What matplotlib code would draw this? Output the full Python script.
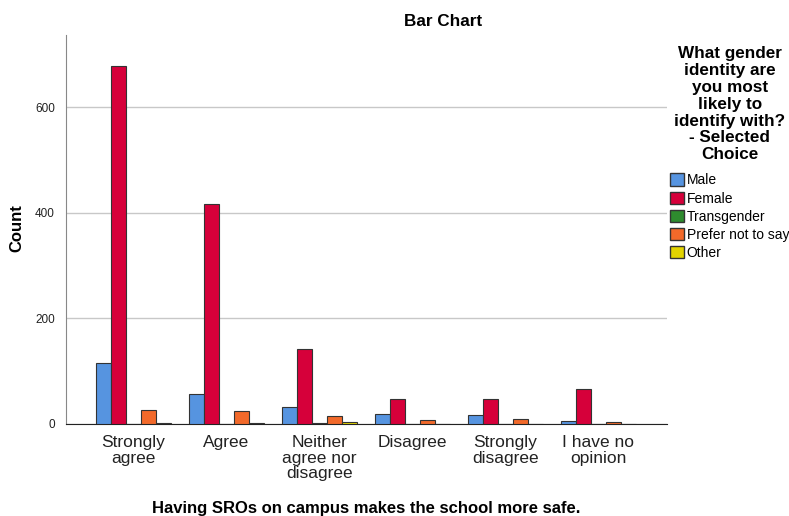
import numpy as np
import matplotlib.pyplot as plt
from matplotlib.patches import Patch

plt.rcParams['font.family'] = ['Liberation Sans', 'DejaVu Sans']

categories = ['Strongly\nagree', 'Agree', 'Neither\nagree nor\ndisagree',
              'Disagree', 'Strongly\ndisagree', 'I have no\nopinion']
genders = ['Male', 'Female', 'Transgender', 'Prefer not to say', 'Other']
male = [115, 57, 32, 19, 17, 6]
female = [678, 417, 142, 47, 47, 66]
transgender = [0, 0, 2, 0, 0, 0]
prefer_not = [26, 25, 15, 7, 9, 4]
other = [1, 1, 3, 0, 0, 0]
colors = ['#5694e0', '#d6003a', '#2e8b2e', '#f2692a', '#e3d400']

series = [male, female, transgender, prefer_not, other]

fig = plt.figure(figsize=(7.89, 5.16), dpi=100)
ax = fig.add_axes([66 / 789, 1 - 424 / 516, 601 / 789, 389 / 516])

x = np.arange(len(categories))
w = 0.161
for i, (vals, col) in enumerate(zip(series, colors)):
    ax.bar(x + (i - 2) * w, vals, width=w, color=col, edgecolor='#333333',
           linewidth=0.8, zorder=3)

ax.set_xlim(-0.726, 5.737)
ax.set_ylim(0, 737)
ax.set_yticks([0, 200, 400, 600])
ax.yaxis.grid(True, color='#c8c8c8', linewidth=1, zorder=0)
ax.set_xticks(x)
ax.set_xticklabels(categories, fontsize=12.5, linespacing=1.05, color='#222222')
ax.tick_params(axis='x', length=0, pad=8)
ax.tick_params(axis='y', length=0, labelsize=8.5, pad=8, labelcolor='#222222')
for s in ['top', 'right']:
    ax.spines[s].set_visible(False)
ax.spines['left'].set_color('#888888')
ax.spines['bottom'].set_color('#222222')

fig.text(17 / 789, 1 - 228 / 516, 'Count', rotation=90, ha='center',
         va='center', fontsize=12, fontweight='bold')
fig.text(366.5 / 789, 1 - 508 / 516,
         'Having SROs on campus makes the school more safe.',
         ha='center', va='center', fontsize=12, fontweight='bold')
fig.text(443.5 / 789, 1 - 22 / 516, 'Bar Chart', ha='center', va='center',
         fontsize=12.3, fontweight='bold')

handles = [Patch(facecolor=c, edgecolor='#333333', label=g)
           for g, c in zip(genders, colors)]
leg = fig.legend(handles=handles,
                 title='What gender\nidentity are\nyou most\nlikely to\nidentify with?\n- Selected\nChoice',
                 loc='upper left', bbox_to_anchor=(670 / 789, 0.91), frameon=False,
                 fontsize=10, handlelength=1.0, handleheight=1.0,
                 handletextpad=0.2, labelspacing=0.3, borderaxespad=0,
                 borderpad=0)
leg.get_title().set_fontweight('bold')
leg.get_title().set_fontsize(12.3)
leg.get_title().set_multialignment('center')
leg.get_title().set_linespacing(1.15)
# extra gap between the title and the entries
leg._legend_box.sep += 5

fig.savefig('out.png', dpi=100)
